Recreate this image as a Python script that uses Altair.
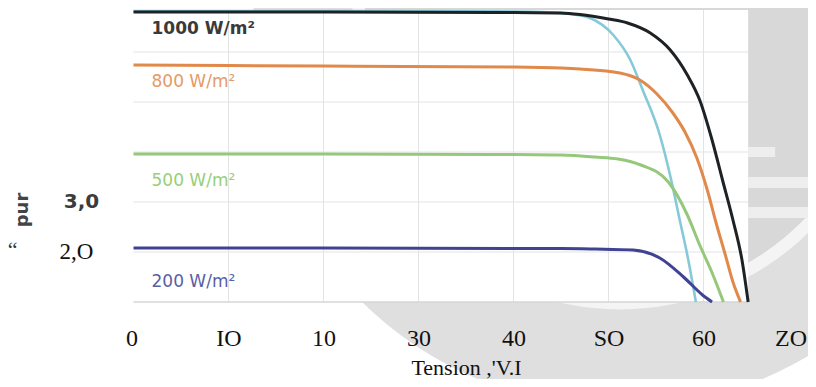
import math
import altair as alt
import pandas as pd

# ---------------- data ----------------
xtick_values = [0, 10, 20, 30, 40, 50, 60, 70]
xtick_labels = ["0", "IO", "10", "30", "40", "SO", "60", "ZO"]
grid_v = [10, 20, 30, 40, 50, 60]
grid_i = [1, 2, 3, 4, 5]

volt_1000 = [0, 20, 40, 45, 47, 50, 52, 54.4, 56.5, 58.3, 59.6, 60.9, 62.0, 63.1, 64.05, 64.7]
curr_1000 = [5.80, 5.80, 5.79, 5.78, 5.75, 5.66, 5.58, 5.38, 5.04, 4.54, 4.04, 3.24, 2.44, 1.64, 0.84, 0.0]

volt_cyan = [0, 20, 40, 44, 46, 48.05, 50.5, 52.3, 53.6, 55.4, 56.6, 57.5, 58.4, 59.2]
curr_cyan = [5.82, 5.82, 5.81, 5.79, 5.76, 5.68, 5.34, 4.84, 4.24, 3.34, 2.44, 1.64, 0.84, 0.0]

volt_800 = [0, 20, 40, 45, 47, 51.2, 53.3, 55.1, 56.7, 58.05, 59.3, 60.4, 61.3, 62.3, 63.1, 63.9]
curr_800 = [4.74, 4.72, 4.70, 4.68, 4.66, 4.58, 4.44, 4.16, 3.80, 3.40, 2.88, 2.24, 1.60, 0.94, 0.40, 0.0]

volt_500 = [0, 20, 40, 45, 48.6, 51, 53.4, 56.3, 58.3, 59.6, 61.0, 62.1]
curr_500 = [2.96, 2.96, 2.95, 2.94, 2.90, 2.86, 2.74, 2.40, 1.74, 1.14, 0.54, 0.0]

volt_200 = [0, 20, 40, 45, 48.6, 52.6, 55.4, 57.9, 59.9, 60.9]
curr_200 = [1.08, 1.08, 1.07, 1.07, 1.06, 1.04, 0.88, 0.50, 0.14, 0.0]

curve_labels = ["1000 W/m²", "800 W/m²", "500 W/m²", "200 W/m²"]
curve_label_y = [5.46, 4.40, 2.42, 0.40]
curve_label_colors = ["#3a3a3a", "#e59a66", "#98cf78", "#5a5ea6"]
curve_label_weight = ["bold", "normal", "normal", "normal"]

ytick_labels = ["3,0", "2,O"]
ytick_values = [2, 1]

# ---------------- layout ----------------
W, H = 665, 292
XMAX, YMAX = 70, 5.84
PLOT_RIGHT = 64.7
xs = alt.Scale(domain=[0, XMAX], nice=False, zero=False)
ys = alt.Scale(domain=[0, YMAX], nice=False, zero=False)
px_per_v = W / XMAX
PR = PLOT_RIGHT * px_per_v

label_expr = "[" + ",".join("'%s'" % t for t in xtick_labels) + "][round(datum.value/10)]"
x_axis = alt.Axis(
    values=xtick_values, labelExpr=label_expr, title="Tension ,'V.I",
    labelFont="Liberation Serif", labelFontSize=24, labelColor="#111",
    labelPadding=24, labelFlush=True, labelFlushOffset=8, labelOverlap=False,
    titleFont="Liberation Serif", titleFontSize=22, titleFontWeight="normal",
    titleColor="#111", titlePadding=7, ticks=False, domain=False, grid=False, zindex=2)

one = pd.DataFrame({"k": [0]})
CX, CY = 486.5, 30   # watermark centre in plot coordinates

# scanned watermark background
outer = alt.Chart(one).mark_circle(size=math.pi * 415 ** 2, color="#dfdfdf", opacity=1).encode(
    x=alt.value(CX), y=alt.value(CY))
ring = alt.Chart(one).mark_circle(size=math.pi * 304 ** 2, color="#f4f4f4", opacity=1).encode(
    x=alt.value(CX), y=alt.value(CY))
inner = alt.Chart(one).mark_circle(size=math.pi * 290 ** 2, color="#d8d8d8", opacity=1).encode(
    x=alt.value(CX), y=alt.value(CY))
bar_df = pd.DataFrame({"x0": [PR, PR, PR], "x1": [PR + 27, PR + 62, PR + 62],
                       "y0": [137, 167, 197], "y1": [147, 178, 208]})
bars = alt.Chart(bar_df).mark_rect(color="#eeeeee").encode(
    x=alt.X("x0:Q", scale=None, axis=None), x2="x1:Q",
    y=alt.Y("y0:Q", scale=None, axis=None), y2="y1:Q")

plot_bg = alt.Chart(one).mark_rect(color="white").encode(
    x=alt.value(0), x2=alt.value(PR), y=alt.value(0), y2=alt.value(H))

vgrid = alt.Chart(pd.DataFrame({"v": grid_v})).mark_rule(color="#e3e3e3", strokeWidth=1).encode(
    x=alt.X("v:Q", scale=xs, axis=x_axis), y=alt.value(0), y2=alt.value(H))

hgrid = alt.Chart(pd.DataFrame({"i": grid_i})).mark_rule(color="#e3e3e3", strokeWidth=1).encode(
    y=alt.Y("i:Q", scale=ys, axis=None), x=alt.value(0), x2=alt.value(PR))

bottom = alt.Chart(one).mark_rule(color="#d6d6d6", strokeWidth=1.5).encode(
    y=alt.value(H), x=alt.value(0), x2=alt.value(PR))


def curve(v, i, color, width):
    df = pd.DataFrame({"v": v, "i": i})
    return alt.Chart(df).mark_line(color=color, strokeWidth=width, interpolate="monotone").encode(
        x=alt.X("v:Q", scale=xs, axis=x_axis), y=alt.Y("i:Q", scale=ys, axis=None))


c_cyan = curve(volt_cyan, curr_cyan, "#86c9d8", 2.6)
c_200 = curve(volt_200, curr_200, "#3f4391", 3)
c_500 = curve(volt_500, curr_500, "#95c87a", 3)
c_800 = curve(volt_800, curr_800, "#e0894a", 3)
c_1000 = curve(volt_1000, curr_1000, "#1e2224", 3)

labels = []
for t, yv, col, wt in zip(curve_labels, curve_label_y, curve_label_colors, curve_label_weight):
    labels.append(alt.Chart(pd.DataFrame({"t": [t], "i": [yv]})).mark_text(
        align="left", baseline="middle", font="DejaVu Sans", fontSize=17, fontWeight=wt,
        color=col).encode(x=alt.value(18), y=alt.Y("i:Q", scale=ys, axis=None), text="t:N"))

ylab1 = alt.Chart(pd.DataFrame({"t": [ytick_labels[0]], "i": [ytick_values[0]]})).mark_text(
    align="center", baseline="middle", font="DejaVu Sans", fontSize=20, fontWeight="bold",
    color="#3c3c3c").encode(x=alt.value(-52), y=alt.Y("i:Q", scale=ys, axis=None), text="t:N")
ylab2 = alt.Chart(pd.DataFrame({"t": [ytick_labels[1]], "i": [ytick_values[1]]})).mark_text(
    align="center", baseline="middle", font="Liberation Serif", fontSize=23,
    color="#111").encode(x=alt.value(-57), y=alt.Y("i:Q", scale=ys, axis=None), text="t:N")

quote = alt.Chart(pd.DataFrame({"t": ["“"]})).mark_text(
    align="center", baseline="middle", font="Liberation Serif", fontSize=22, color="#333").encode(
    x=alt.value(-121), y=alt.value(240), text="t:N")
pur = alt.Chart(pd.DataFrame({"t": ["pur"]})).mark_text(
    align="center", baseline="middle", font="DejaVu Sans", fontSize=18, fontWeight="bold",
    angle=270, color="#444").encode(x=alt.value(-111), y=alt.value(200), text="t:N")

chart = alt.layer(
    outer, ring, inner, bars, plot_bg, vgrid, hgrid, bottom,
    c_cyan, c_200, c_500, c_800, c_1000,
    *labels, ylab1, ylab2, quote, pur
).properties(
    width=W, height=H,
    padding={"left": 125.5, "top": 2, "right": 9.5, "bottom": 77},
    autosize=alt.AutoSizeParams(type="none"),
    background="white",
).configure_view(stroke=None)

chart.save("out.html", embed_options={"renderer": "svg", "actions": False})
